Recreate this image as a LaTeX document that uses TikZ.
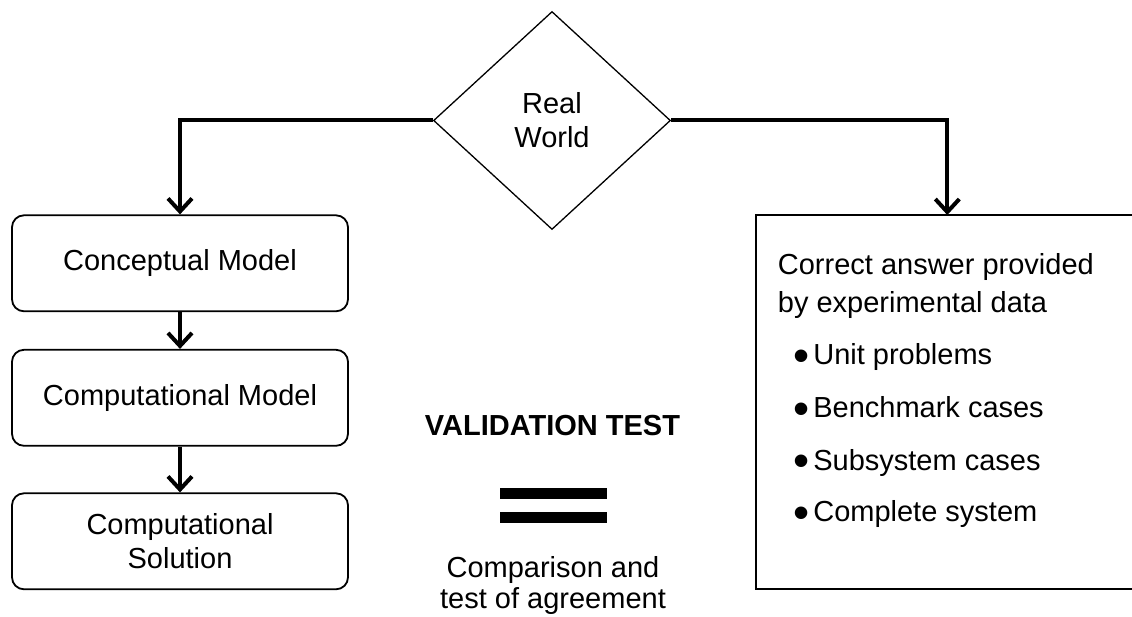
\documentclass[tikz,border=0pt]{standalone}
\usepackage{fontspec}
\setmainfont{Liberation Sans}
\usetikzlibrary{shapes.geometric,arrows.meta}
\newcommand{\itemdot}{\raisebox{-6.5pt}{\fontsize{46}{34}\selectfont•}\hspace{4pt}}
\tikzset{
  lbl/.style={font=\fontsize{29}{34}\selectfont, inner sep=0pt},
  stage/.style={lbl, draw, line width=1.8pt, rounded corners=12pt,
                minimum width=336pt, minimum height=96pt, align=center},
  flow/.style={line width=4pt, -{Straight Barb[length=13pt,width=24pt]}},
  item/.style={lbl, anchor=base west},
}
\begin{document}
\begin{tikzpicture}[x=1pt,y=-1pt]
  \clip (0,0) rectangle (1132,617);
  \fill[white] (0,0) rectangle (1132,617);

  % source of both branches
  \node[lbl, draw, shape=diamond, line width=1.3pt, aspect=1.087,
        minimum width=237pt, minimum height=218pt, align=center]
        (rw) at (552,120.5) {Real\\World};

  % simulation chain on the left
  \node[stage] (cm) at (180,263.3) {Conceptual Model};
  \node[stage] (cp) at (180,397.8) {Computational Model};
  \node[stage] (cs) at (180,541.3) {Computational\\Solution};

  % experimental side on the right (box runs past the page edge)
  \node[draw, line width=1.8pt, minimum width=390pt, minimum height=374pt,
        inner sep=0pt] (ex) at (950.7,402) {};
  \node[item] (t1) at (777.7,275) {Correct answer provided};
  \node[item] (t2) at (777.7,312.7) {by experimental data};
  \node[item] (b1) at (793,365)   {\itemdot Unit problems};
  \node[item] (b2) at (793,417.7) {\itemdot Benchmark cases};
  \node[item] (b3) at (793,470)   {\itemdot Subsystem cases};
  \node[item] (b4) at (793,521.7) {\itemdot Complete system};

  % comparison in the middle
  \node[lbl, font=\fontsize{29}{34}\selectfont\bfseries, anchor=base] (vt) at (552.5,435) {VALIDATION TEST};
  \node[fill=black, minimum width=107pt, minimum height=11.5pt, inner sep=0pt] (eq1) at (553.5,493.3) {};
  \node[fill=black, minimum width=107pt, minimum height=11.5pt, inner sep=0pt] (eq2) at (553.5,517.5) {};
  \node[lbl, align=center, font=\fontsize{29}{31}\selectfont] (cmp) at (553,585) {Comparison and\\test of agreement};

  % connectors
  \coordinate (rtop) at (947.3,215);
  \draw[flow] (rw.west) -| (cm.north);
  \draw[flow] (rw.east) -| (rtop);
  \draw[flow] (cm.south) -- (cp.north);
  \draw[flow] (cp.south) -- (cs.north);
\end{tikzpicture}
\end{document}
